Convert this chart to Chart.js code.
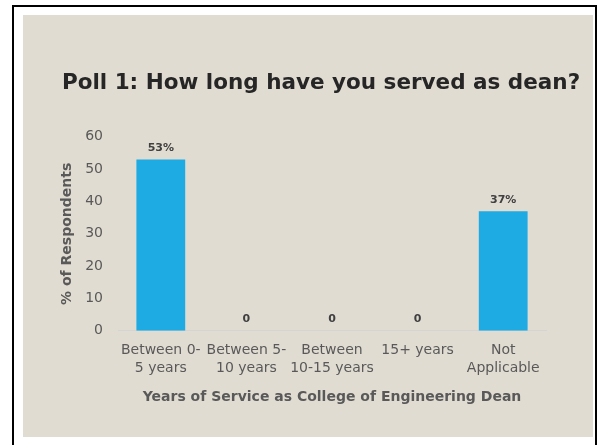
<!DOCTYPE html>
<html>
<head>
<meta charset="utf-8">
<script src="https://cdn.jsdelivr.net/npm/chart.js@4/dist/chart.umd.min.js"></script>
<style>
  html, body { margin: 0; padding: 0; background: #ffffff; overflow: hidden; }
  #frame {
    position: absolute; left: 12px; top: 5px;
    width: 581px; height: 460px;
    border: 2px solid #000000;
  }
  #panel {
    position: absolute; left: 23px; top: 15px;
    width: 570px; height: 422px;
    background: #e1dcd2;
  }
</style>
</head>
<body>
<div id="frame"></div>
<div id="panel"><canvas id="pollChart" width="570" height="422"></canvas></div>
<script>
// Poll 1 - years of service

const categories = [
    ['Between 0-', '5 years'],
    ['Between 5-', '10 years'],
    ['Between', '10-15 years'],
    '15+ years',
    ['Not', 'Applicable']
];

const respondents = [53, 0, 0, 0, 37];

const valueLabels = ['53%', '0', '0', '0', '37%'];

const yTicks = [0, 10, 20, 30, 40, 50, 60];

// little plugin that writes the value above each bar
const barLabels = {
    id: 'barLabels',
    afterDatasetsDraw(chart) {
        const ctx = chart.ctx;
        const meta = chart.getDatasetMeta(0);
        ctx.save();
        ctx.font = 'bold 11px "DejaVu Sans"';
        ctx.fillStyle = '#404040';
        ctx.textAlign = 'center';
        ctx.textBaseline = 'bottom';
        meta.data.forEach((bar, i) => {
            ctx.fillText(valueLabels[i], bar.x, bar.y - 6);
        });
        ctx.restore();
    }
};

new Chart(document.getElementById('pollChart'), {
    type: 'bar',
    data: {
        labels: categories,
        datasets: [
            {
                label: '% of Respondents',
                data: respondents,
                backgroundColor: '#1eaae2',
                borderWidth: 0,
                barPercentage: 0.57,
                categoryPercentage: 1
            }
        ]
    },
    options: {
        responsive: false,
        animation: false,
        layout: {
            padding: { left: 26, right: 0, top: 0, bottom: 19 }
        },
        plugins: {
            legend: { display: false },
            tooltip: { enabled: false },
            title: {
                display: true,
                text: 'Poll 1: How long have you served as dean?',
                color: '#262626',
                font: { family: 'DejaVu Sans', size: 21.5, weight: 'bold' },
                padding: { top: 56, bottom: 40 }
            }
        },
        scales: {
            x: {
                grid: { display: false, drawTicks: false },
                border: { display: true, color: '#d4d4d4', width: 1 },
                ticks: {
                    color: '#595959',
                    font: { family: 'DejaVu Sans', size: 14, lineHeight: 1.3 },
                    padding: 10,
                    maxRotation: 0,
                    autoSkip: false
                },
                title: {
                    display: true,
                    text: 'Years of Service as College of Engineering Dean',
                    color: '#595959',
                    font: { family: 'DejaVu Sans', size: 14, weight: 'bold' },
                    padding: { top: 2, bottom: 12 }
                }
            },
            y: {
                min: 0,
                max: 60,
                afterBuildTicks: (scale) => {
                    scale.ticks = yTicks.map(v => ({ value: v }));
                },
                afterFit: (scale) => { scale.width = 69; },
                grid: { display: false, drawTicks: false },
                border: { display: false },
                ticks: {
                    color: '#595959',
                    font: { family: 'DejaVu Sans', size: 14 },
                    padding: 15
                },
                title: {
                    display: true,
                    text: '% of Respondents',
                    color: '#595959',
                    font: { family: 'DejaVu Sans', size: 14, weight: 'bold' },
                    padding: { top: 10, bottom: 11 }
                }
            },
            // empty axis on the right, only to keep the plot narrower than the title
            spacer: {
                position: 'right',
                grid: { display: false },
                border: { display: false },
                ticks: { display: false },
                afterFit: (scale) => { scale.width = 47; }
            }
        }
    },
    plugins: [barLabels]
});
</script>
</body>
</html>
